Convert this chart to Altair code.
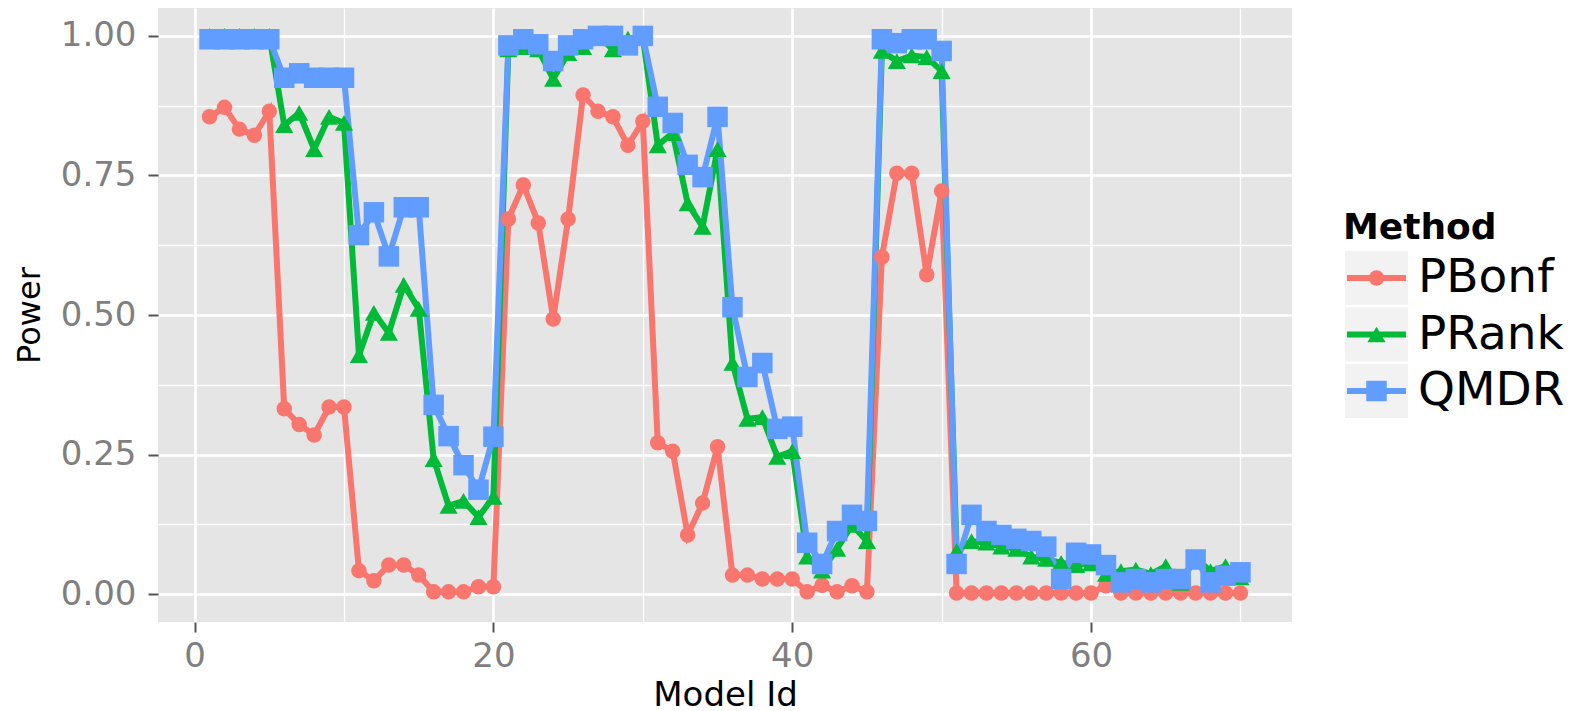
import altair as alt
import pandas as pd

model_ids = list(range(1, 71))
methods = ["PBonf", "PRank", "QMDR"]

pbonf = [0.855, 0.872, 0.833, 0.822, 0.865, 0.332, 0.304, 0.285, 0.335, 0.335,
         0.042, 0.024, 0.052, 0.052, 0.034, 0.004, 0.004, 0.004, 0.013, 0.013,
         0.672, 0.733, 0.665, 0.493, 0.672, 0.894, 0.865, 0.855, 0.804, 0.847,
         0.271, 0.256, 0.106, 0.163, 0.264, 0.034, 0.034, 0.027, 0.027, 0.027,
         0.004, 0.016, 0.004, 0.015, 0.004, 0.604, 0.754, 0.754, 0.572, 0.722,
         0.002, 0.002, 0.002, 0.002, 0.002, 0.002, 0.002, 0.002, 0.002, 0.002,
         0.015, 0.002, 0.002, 0.002, 0.002, 0.002, 0.002, 0.002, 0.002, 0.002]
prank = [1.0, 1.0, 1.0, 1.0, 1.0, 0.84, 0.862, 0.797, 0.855, 0.844,
         0.428, 0.504, 0.468, 0.554, 0.511, 0.242, 0.158, 0.167, 0.138, 0.174,
         0.976, 0.98, 0.976, 0.923, 0.969, 0.98, 1.0, 0.976, 0.995, 0.998,
         0.804, 0.826, 0.70, 0.658, 0.797, 0.414, 0.314, 0.317, 0.246, 0.256,
         0.067, 0.042, 0.081, 0.124, 0.095, 0.973, 0.955, 0.965, 0.962, 0.937,
         0.077, 0.095, 0.092, 0.085, 0.081, 0.067, 0.063, 0.056, 0.052, 0.055,
         0.036, 0.041, 0.044, 0.036, 0.05, 0.02, 0.065, 0.041, 0.05, 0.03]
qmdr = [0.994, 0.994, 0.994, 0.994, 0.994, 0.925, 0.933, 0.925, 0.925, 0.925,
        0.643, 0.684, 0.605, 0.693, 0.693, 0.339, 0.283, 0.231, 0.187, 0.282,
        0.983, 0.994, 0.985, 0.955, 0.983, 0.994, 1.0, 1.0, 0.983, 1.0,
        0.873, 0.844, 0.769, 0.747, 0.855, 0.514, 0.389, 0.414, 0.296, 0.30,
        0.092, 0.054, 0.113, 0.142, 0.131, 0.994, 0.987, 0.994, 0.994, 0.973,
        0.054, 0.142, 0.113, 0.106, 0.099, 0.095, 0.085, 0.027, 0.074, 0.071,
        0.052, 0.021, 0.027, 0.021, 0.027, 0.027, 0.062, 0.021, 0.033, 0.039]

colors = ["#F8766D", "#00BA38", "#619CFF"]
shapes = ["circle", "triangle-up", "square"]
sizes = [240, 420, 400]

x_all = [0, 10, 20, 30, 40, 50, 60, 70]
y_all = [0, 0.125, 0.25, 0.375, 0.5, 0.625, 0.75, 0.875, 1.0]

rows = []
for m, vals in zip(methods, [pbonf, prank, qmdr]):
    for i, v in zip(model_ids, vals):
        rows.append({"Model Id": i, "Power": v, "Method": m})
df = pd.DataFrame(rows)

FONT = "DejaVu Sans"
LABEL_COLOR = "#7F7F7F"
W, H = 1134, 614

color_scale = alt.Scale(domain=methods, range=colors)
shape_scale = alt.Scale(domain=methods, range=shapes)
size_scale = alt.Scale(domain=methods, range=sizes)

x_test = "datum.value % 20 === 0"
y_test = "abs(datum.value * 4 - round(datum.value * 4)) < 0.001"

x_enc = alt.X(
    "Model Id:Q",
    title="Model Id",
    scale=alt.Scale(domain=[-2.45, 73.45], nice=False, zero=False),
    axis=alt.Axis(
        values=x_all,
        labelExpr=f"{x_test} ? datum.label : ''",
        grid=True,
        gridColor="white",
        gridWidth={"condition": {"test": x_test, "value": 2.6}, "value": 1.3},
        tickOpacity={"condition": {"test": x_test, "value": 1}, "value": 0},
        tickColor="#555555",
        tickWidth=2,
        tickSize=10,
        domain=False,
        labelFont=FONT,
        labelFontSize=34,
        labelColor=LABEL_COLOR,
        labelPadding=7,
        labelFlush=False,
        titleFont=FONT,
        titleFontSize=34,
        titleFontWeight="normal",
        titleColor="black",
        titlePadding=5,
    ),
)
y_enc = alt.Y(
    "Power:Q",
    title="Power",
    scale=alt.Scale(domain=[-0.05, 1.05], nice=False, zero=False),
    axis=alt.Axis(
        values=y_all,
        format=".2f",
        labelExpr=f"{y_test} ? datum.label : ''",
        grid=True,
        gridColor="white",
        gridWidth={"condition": {"test": y_test, "value": 2.6}, "value": 1.3},
        tickOpacity={"condition": {"test": y_test, "value": 1}, "value": 0},
        tickColor="#555555",
        tickWidth=2,
        tickSize=10,
        domain=False,
        labelFont=FONT,
        labelFontSize=34,
        labelColor=LABEL_COLOR,
        labelPadding=12,
        labelFlush=False,
        titleFont=FONT,
        titleFontSize=32,
        titleFontWeight="normal",
        titleColor="black",
        titlePadding=14,
    ),
)

lines = alt.Chart(df).mark_line(strokeWidth=6).encode(
    x=x_enc, y=y_enc,
    color=alt.Color("Method:N", scale=color_scale, legend=None),
    detail="Method:N",
)
points = alt.Chart(df).mark_point(filled=True, opacity=1).encode(
    x="Model Id:Q", y="Power:Q",
    color=alt.Color("Method:N", scale=color_scale, legend=None),
    shape=alt.Shape("Method:N", scale=shape_scale, legend=None),
    size=alt.Size("Method:N", scale=size_scale, legend=None),
)
main = alt.layer(lines, points).properties(
    width=W, height=H,
    view=alt.ViewBackground(fill="#E5E5E5", stroke=None),
)

# legend panel
row_c0, row_step = 270, 56.5
leg_scale = alt.Scale(domain=[-row_c0 / row_step, (H - row_c0) / row_step],
                      reverse=True, nice=False, zero=False)
leg_df = pd.DataFrame({"Method": methods, "row": list(range(len(methods)))})

keys = alt.Chart(leg_df).transform_calculate(
    r0="datum.row - 0.48", r1="datum.row + 0.48"
).mark_rect(color="#F2F2F2").encode(
    x=alt.value(53), x2=alt.value(116),
    y=alt.Y("r0:Q", scale=leg_scale, axis=None), y2="r1:Q",
)
key_lines = alt.Chart(leg_df).mark_rule(strokeWidth=6).encode(
    x=alt.value(55), x2=alt.value(114),
    y=alt.Y("row:Q", scale=leg_scale, axis=None),
    color=alt.Color("Method:N", scale=color_scale, legend=None),
)
key_pts = alt.Chart(leg_df).mark_point(filled=True, opacity=1).encode(
    x=alt.value(84.5),
    y=alt.Y("row:Q", scale=leg_scale, axis=None),
    color=alt.Color("Method:N", scale=color_scale, legend=None),
    shape=alt.Shape("Method:N", scale=shape_scale, legend=None),
    size=alt.Size("Method:N", scale=size_scale, legend=None),
)
key_labels = alt.Chart(leg_df).mark_text(
    align="left", baseline="middle", font=FONT, fontSize=47, color="black"
).encode(
    x=alt.value(126),
    y=alt.Y("row:Q", scale=leg_scale, axis=None),
    text="Method:N",
)
leg_title = alt.Chart(pd.DataFrame({"t": ["Method"]})).mark_text(
    align="left", baseline="alphabetic", font=FONT, fontSize=36,
    fontWeight="bold", color="black"
).encode(x=alt.value(51), y=alt.value(231), text="t:N")

legend = alt.layer(keys, key_lines, key_pts, key_labels, leg_title).properties(
    width=265, height=H,
    view=alt.ViewBackground(fill=None, stroke=None),
)

chart = alt.hconcat(main, legend, spacing=0).resolve_scale(
    x="independent", y="independent"
).properties(
    padding={"left": 5, "top": 0, "right": 0, "bottom": 0},
    background="white",
).configure_view(stroke=None)

chart.save("out.html", embed_options={"renderer": "svg", "actions": False})
